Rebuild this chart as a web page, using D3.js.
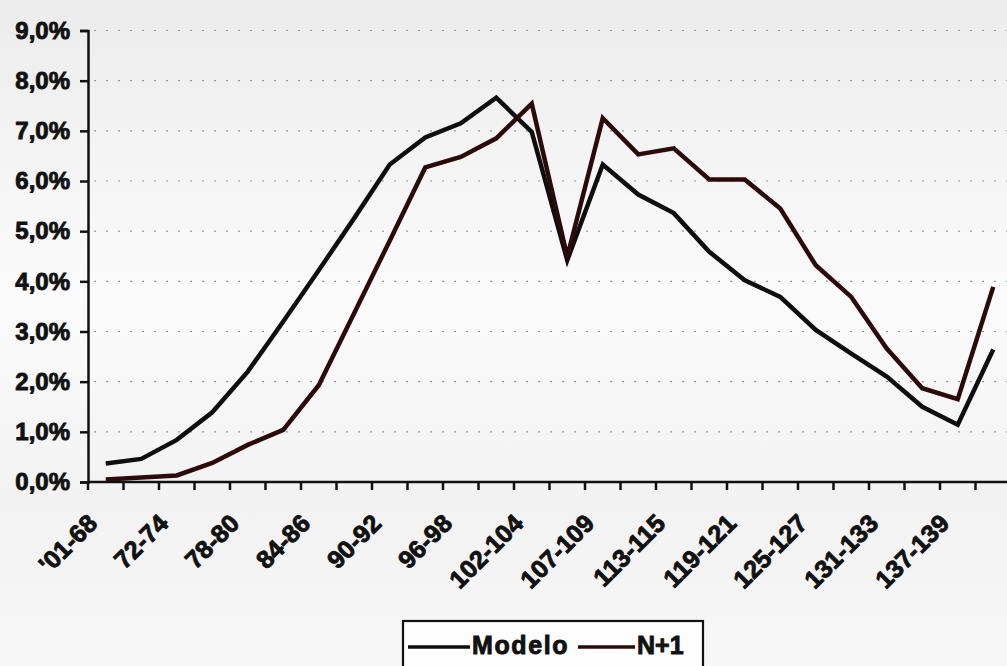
<!DOCTYPE html>
<html>
<head>
<meta charset="utf-8">
<script src="https://cdn.jsdelivr.net/npm/d3@7"></script>
<style>
  html, body { margin: 0; padding: 0; background: #f6f6f6; }
  svg { display: block; font-family: "Liberation Sans", Arial, sans-serif; }
</style>
</head>
<body>
<div id="chart"></div>
<script>
// Categories (every other one is labelled on the axis)
const categories = [
  "'01-68", "69-71", "72-74", "75-77", "78-80", "81-83", "84-86", "87-89",
  "90-92", "93-95", "96-98", "99-101", "102-104", "105-106", "107-109",
  "110-112", "113-115", "116-118", "119-121", "122-124", "125-127",
  "128-130", "131-133", "134-136", "137-139", "140+"
];

// Series values in %
const modelo = [
  0.37, 0.46, 0.84, 1.39, 2.2, 3.2, 4.22, 5.26, 6.33, 6.87, 7.15, 7.66, 6.98,
  4.42, 6.33, 5.73, 5.36, 4.59, 4.02, 3.69, 3.03, 2.56, 2.1, 1.5, 1.14, 2.64
];
const nMas1 = [
  0.05, 0.09, 0.13, 0.38, 0.74, 1.04, 1.93, 3.37, 4.81, 6.27, 6.48, 6.85, 7.54,
  4.49, 7.25, 6.53, 6.65, 6.03, 6.03, 5.45, 4.32, 3.69, 2.66, 1.87, 1.65, 3.89
];

const seriesNames = ["Modelo", "N+1"];
const yTicks = [0, 1, 2, 3, 4, 5, 6, 7, 8, 9];

const W = 1007, H = 666;
const plot = { left: 88, right: 1011, top: 30.5, bottom: 482 };

const svg = d3.select("#chart").append("svg")
  .attr("width", W).attr("height", H);

// light scanned-paper background
const grad = svg.append("defs").append("linearGradient")
  .attr("id", "bg").attr("x1", 0).attr("y1", 0).attr("x2", 0).attr("y2", 1);
grad.append("stop").attr("offset", "0%").attr("stop-color", "#ececec");
grad.append("stop").attr("offset", "45%").attr("stop-color", "#fbfbfb");
grad.append("stop").attr("offset", "75%").attr("stop-color", "#f2f2f2");
grad.append("stop").attr("offset", "100%").attr("stop-color", "#f7f7f7");
svg.append("rect").attr("width", W).attr("height", H).attr("fill", "url(#bg)");

const xScale = d3.scaleBand().domain(categories).range([plot.left, plot.right]).padding(0);
const yScale = d3.scaleLinear().domain([0, 9]).range([plot.bottom, plot.top]);
const cx = (c) => xScale(c) + xScale.bandwidth() / 2;

// heavy scanned-looking text
const heavy = (sel, size) =>
  sel.attr("fill", "#111")
    .attr("stroke", "#111")
    .attr("stroke-width", 0.9)
    .style("font-size", size + "px")
    .style("font-weight", "bold");

// Dotted grid lines
svg.append("g")
  .selectAll("line")
  .data(yTicks.filter((t) => t > 0))
  .enter()
  .append("line")
  .attr("x1", plot.left + 6)
  .attr("x2", W)
  .attr("y1", (d) => yScale(d))
  .attr("y2", (d) => yScale(d))
  .attr("stroke", "#8f9999")
  .attr("stroke-width", 1.2)
  .attr("stroke-dasharray", "2,10");

// Y axis
const yAxis = svg.append("g")
  .attr("transform", `translate(${plot.left},0)`)
  .call(d3.axisLeft(yScale).tickValues(yTicks).tickSize(8).tickPadding(10)
    .tickFormat((d) => d3.format(".1f")(d).replace(".", ",") + "%"));
yAxis.select(".domain").attr("stroke", "#111").attr("stroke-width", 2.5);
yAxis.selectAll(".tick line").attr("stroke", "#111").attr("stroke-width", 2.5);
heavy(yAxis.selectAll(".tick text"), 24);

// X axis: ticks between categories
const boundaries = categories.map((c) => xScale(c)).concat([plot.right]);
svg.append("line")
  .attr("x1", plot.left).attr("x2", W)
  .attr("y1", plot.bottom).attr("y2", plot.bottom)
  .attr("stroke", "#111").attr("stroke-width", 2.5);
svg.append("g")
  .selectAll("line")
  .data(boundaries)
  .enter()
  .append("line")
  .attr("x1", (d) => d).attr("x2", (d) => d)
  .attr("y1", plot.bottom).attr("y2", plot.bottom + 8)
  .attr("stroke", "#111").attr("stroke-width", 2.5);

const xLabels = svg.append("g")
  .selectAll("text")
  .data(categories.filter((c, i) => i % 2 === 0))
  .enter()
  .append("text")
  .attr("transform", (d) => `translate(${cx(d) - 7},${plot.bottom + 43}) rotate(-45)`)
  .attr("text-anchor", "end")
  .text((d) => d);
heavy(xLabels, 25);

// Lines
const line = d3.line()
  .x((d) => cx(d.cat))
  .y((d) => yScale(d.v));

const series = [
  { name: seriesNames[0], color: "#0e0e0e", values: modelo },
  { name: seriesNames[1], color: "#2c0a0a", values: nMas1 }
];

series.forEach((s) => {
  svg.append("path")
    .datum(s.values.map((v, i) => ({ cat: categories[i], v })))
    .attr("fill", "none")
    .attr("stroke", s.color)
    .attr("stroke-width", 4.5)
    .attr("stroke-linejoin", "miter")
    .attr("d", line);
});

// Legend
const legend = svg.append("g").attr("transform", "translate(403,621)");
legend.append("rect")
  .attr("width", 300).attr("height", 60)
  .attr("fill", "#fdfdfd").attr("stroke", "#111").attr("stroke-width", 2.2);

const legendItems = [
  { x: 5, lineW: 62, s: series[0], spacing: 1.6 },
  { x: 175, lineW: 57, s: series[1], spacing: 0 }
];
legendItems.forEach((it) => {
  legend.append("line")
    .attr("x1", it.x).attr("x2", it.x + it.lineW)
    .attr("y1", 26).attr("y2", 26)
    .attr("stroke", it.s.color).attr("stroke-width", 3.5);
  heavy(legend.append("text")
    .attr("x", it.x + it.lineW + 2)
    .attr("y", 33)
    .style("letter-spacing", it.spacing + "px")
    .text(it.s.name), 25);
});
</script>
</body>
</html>
